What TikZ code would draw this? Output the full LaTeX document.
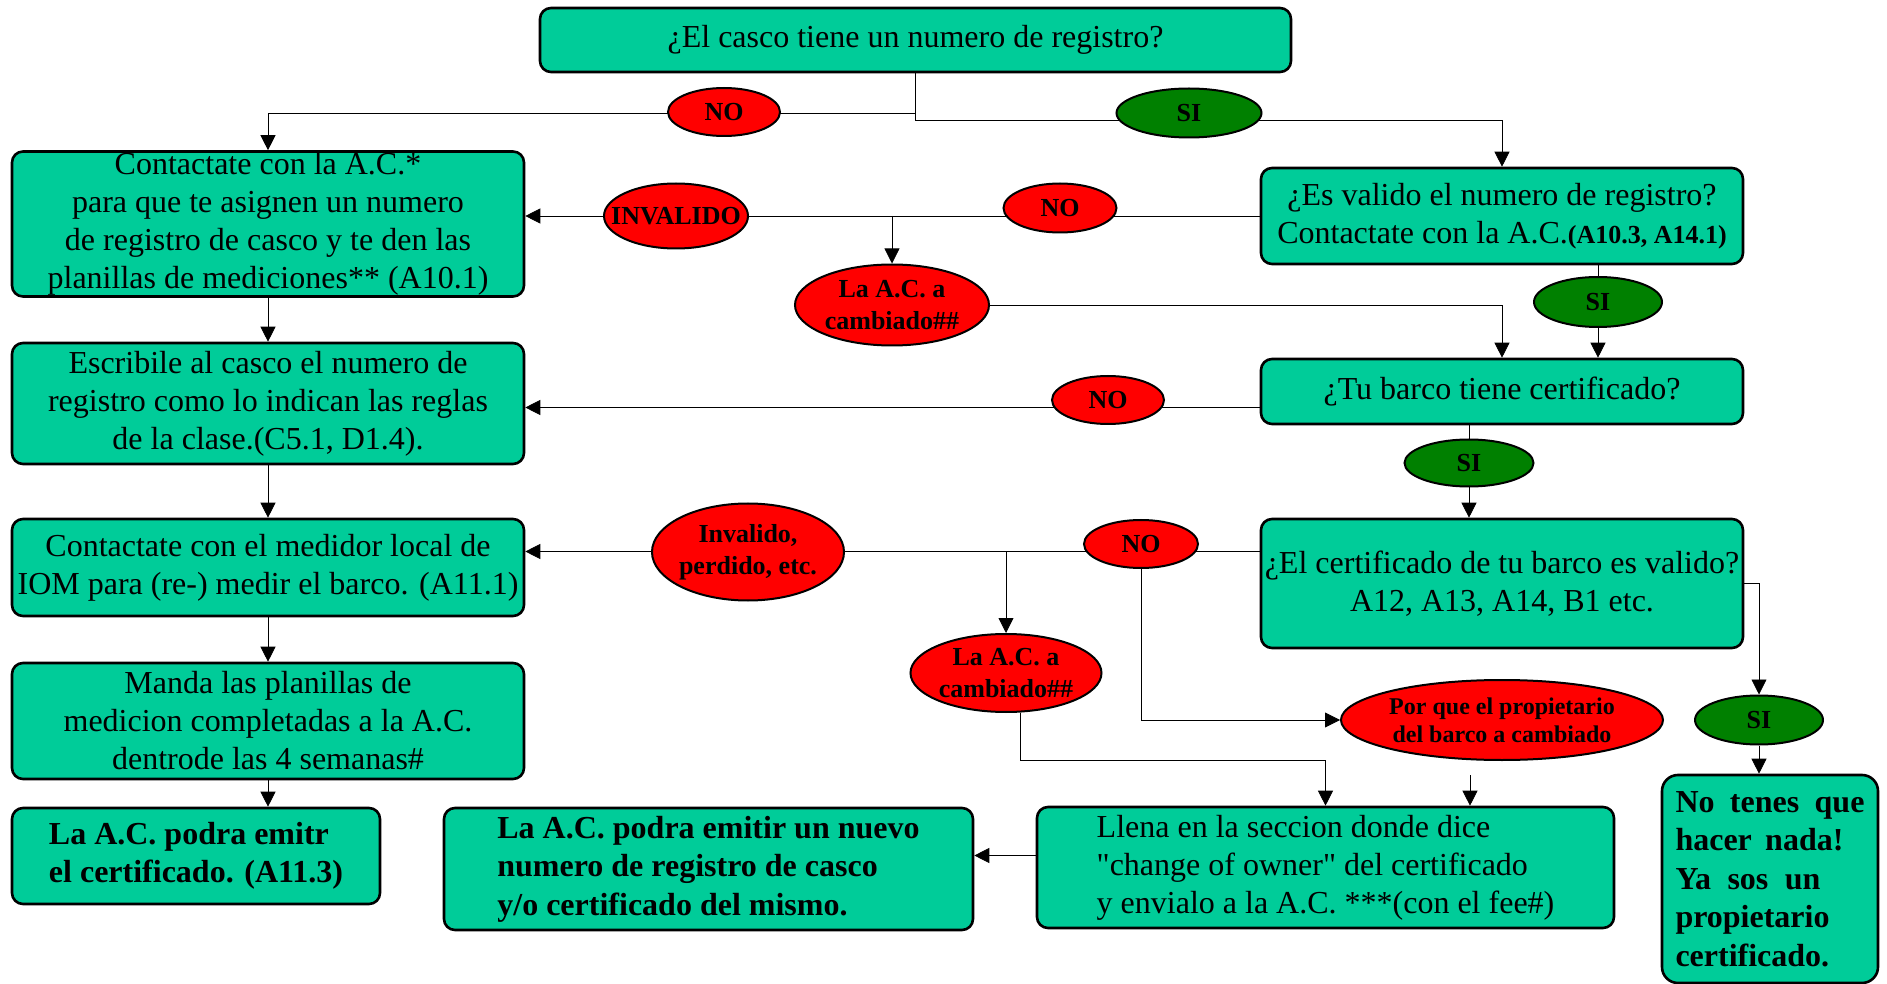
\documentclass[tikz,border=0pt]{standalone}
\usepackage{fontspec}
\setmainfont{Liberation Serif}
\newfontfamily\rectas{Liberation Serif}
\usetikzlibrary{
  arrows.meta,
  backgrounds,
  shapes.geometric,
}
\definecolor{verdeagua}{RGB}{0,204,153}
\definecolor{verdesi}{RGB}{0,128,0}
\newcommand{\comillas}{{\rectas\char34}}

\begin{document}
\begin{tikzpicture}[x=0.5pt,y=-0.5pt,>={Triangle[length=7.5pt,width=7.5pt]}]%
\tikzstyle{paso}=[rectangle,rounded corners=5.5pt,draw=black,line width=1.3pt,fill=verdeagua,inner sep=0.5pt,align=center,font=\fontsize{16}{19}\selectfont]
\tikzstyle{pasob}=[paso,font=\fontsize{16}{19.25}\selectfont\bfseries]
\tikzstyle{no}=[ellipse,draw=black,line width=1pt,fill=red,inner sep=0pt]
\tikzstyle{si}=[no,fill=verdesi]
\tikzstyle{rotulo}=[font=\fontsize{13}{16}\selectfont\bfseries,align=center,inner sep=0pt]
\useasboundingbox (0,0) rectangle (1887,984);
% preguntas
\node[paso,minimum width=375.5pt,minimum height=32pt] (casco) at (915.5,40) {¿El casco tiene un numero de registro?};
\node[paso,minimum width=241pt,minimum height=48pt] (valido) at (1502,216) {¿Es valido el numero de registro?\\Contactate con la A.C.{\fontsize{13}{16}\selectfont\bfseries(A10.3, A14.1)}};
\node[paso,minimum width=241pt,minimum height=32.5pt] (tiene) at (1502,391.5) {¿Tu barco tiene certificado?};
\node[paso,minimum width=241pt,minimum height=64.5pt] (certval) at (1502,583.5) {¿El certificado de tu barco es valido?\\A12, A13, A14, B1 etc.};
% pasos
\node[paso,minimum width=256pt,minimum height=72pt] (asignar) at (268,224) {Contactate con la A.C.*\\para que te asignen un numero\\de registro de casco y te den las\\planillas de mediciones** (A10.1)};
\node[paso,minimum width=256pt,minimum height=60.5pt] (escribe) at (268,403.5) {Escribile al casco el numero de\\registro como lo indican las reglas\\de la clase.(C5.1, D1.4).};
\node[paso,minimum width=256pt,minimum height=48.5pt] (medidor) at (268,567.5) {Contactate con el medidor local de\\IOM para (re-) medir el barco. (A11.1)};
\node[paso,minimum width=256pt,minimum height=58pt] (manda) at (268,721) {Manda las planillas de\\medicion completadas a la A.C.\\dentrode las 4 semanas\#};
\node[pasob,minimum width=184pt,minimum height=48pt,align=left] (emitr) at (196,856) {La A.C. podra emitr\\el certificado. (A11.3)};
\node[pasob,minimum width=264.5pt,minimum height=61pt,align=left] (nuevo) at (708.5,869) {La A.C. podra emitir un nuevo\\numero de registro de casco\\y/o certificado del mismo.};
\node[paso,minimum width=288.5pt,minimum height=60.5pt,align=left] (llena) at (1325.5,867.5) {Llena en la seccion donde dice\\\comillas change of owner\comillas{} del certificado\\y envialo a la A.C. ***(con el fee\#)};
\node[pasob,rounded corners=8pt,minimum width=108pt,minimum height=104pt,align=left] (nada) at (1770,879) {\makebox[94.5pt][s]{No tenes que}\\\makebox[84pt][s]{hacer nada!}\\\makebox[72.5pt][s]{Ya sos un}\\propietario\\certificado.};
% respuestas
\node[no,minimum width=56pt,minimum height=24pt,label={[rotulo]center:NO}] (no1) at (724,112) {};
\node[si,minimum width=72.5pt,minimum height=24.5pt,label={[rotulo]center:SI}] (si1) at (1189,113) {};
\node[no,minimum width=72pt,minimum height=32.5pt,label={[rotulo]center:INVALIDO}] (inval) at (676,216) {};
\node[no,minimum width=56.5pt,minimum height=24.5pt,label={[rotulo]center:NO}] (no2) at (1060,208) {};
\node[no,minimum width=97pt,minimum height=40.5pt,label={[rotulo]center:{La A.C. a\\cambiado\#\#}}] (lac1) at (892,305) {};
\node[si,minimum width=64pt,minimum height=25pt,label={[rotulo]center:SI}] (si2) at (1598,302) {};
\node[no,minimum width=56pt,minimum height=24pt,label={[rotulo]center:NO}] (no3) at (1108,400) {};
\node[si,minimum width=64.5pt,minimum height=23.5pt,label={[rotulo]center:SI}] (si3) at (1469,463) {};
\node[no,minimum width=57pt,minimum height=24pt,label={[rotulo]center:NO}] (no4) at (1141,544) {};
\node[no,minimum width=96pt,minimum height=48.5pt,label={[rotulo]center:{Invalido,\\perdido, etc.}}] (invp) at (748,552) {};
\node[no,minimum width=95.5pt,minimum height=39pt,label={[rotulo]center:{La A.C. a\\cambiado\#\#}}] (lac2) at (1006,673) {};
\node[no,minimum width=161pt,minimum height=40pt,label={[rotulo,font=\fontsize{12}{14}\selectfont\bfseries]center:{Por que el propietario\\del barco a cambiado}}] (por) at (1502,720) {};
\node[si,minimum width=64pt,minimum height=24.5pt,label={[rotulo]center:SI}] (si4) at (1759,720) {};
\coordinate (libre) at (1470,775);
% conectores
\begin{scope}[on background layer,line width=1pt]
\draw[->] (casco.south) -- ++(0,40) -| (asignar.north);
\draw[->] (casco.south) -- ++(0,47) -| (valido.north);
\draw[->] (valido.west) -- (valido.west -| asignar.east);
\draw[->] (valido.west -| lac1.north) -- (lac1.north);
\draw[->] (lac1.east) -| (tiene.north);
\draw[->] (valido.south -| si2) -- (tiene.north -| si2);
\draw[->] ([yshift=-8pt]tiene.west) -- ([yshift=-8pt]tiene.west -| escribe.east);
\draw[->] (tiene.south -| si3) -- (certval.north -| si3);
\draw[->] ([yshift=16pt]certval.west) -- ([yshift=16pt]certval.west -| medidor.east);
\draw[->] ([yshift=16pt]certval.west -| lac2.north) -- (lac2.north);
\draw[->] (no4) |- (por.west);
\draw[->] ([xshift=7pt]lac2.south) -- ++(0,47) -| (llena.north);
\draw[->] (libre) -- (libre |- llena.north);
\draw[->] (certval.east) -| (si4.north);
\draw[->] (si4.south) -- (si4.south |- nada.north);
\draw[->] ([yshift=6pt]llena.west) -- ([yshift=6pt]llena.west -| nuevo.east);
\draw[->] (asignar) -- (escribe);
\draw[->] (escribe) -- (medidor);
\draw[->] (medidor) -- (manda);
\draw[->] (manda.south) -- (manda.south |- emitr.north);
\end{scope}
\end{tikzpicture}
\end{document}
